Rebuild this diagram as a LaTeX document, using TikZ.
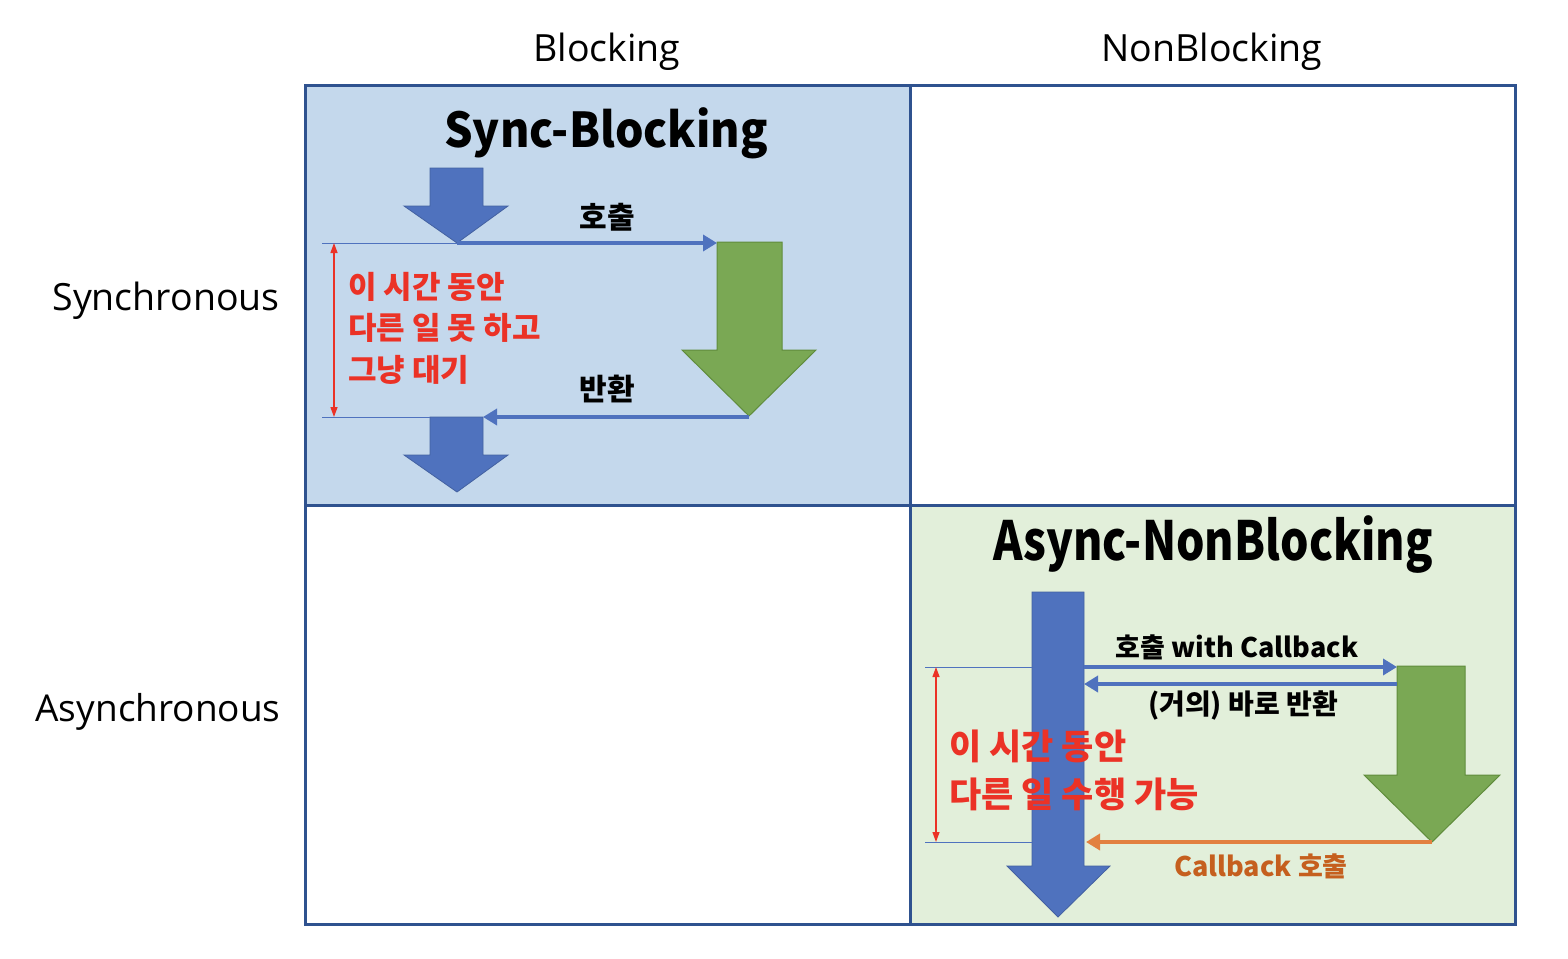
\documentclass[tikz,border=0pt]{standalone}
\usepackage{fontspec}
\usepackage{graphicx}
\setmainfont{Open Sans}
\newfontfamily\kr{Noto Sans CJK KR}
\usetikzlibrary{arrows.meta}
\definecolor{gridc}{RGB}{47,82,143}
\definecolor{bluebg}{RGB}{196,216,236}
\definecolor{greenbg}{RGB}{226,239,218}
\definecolor{arrblue}{RGB}{79,114,190}
\definecolor{arrgreen}{RGB}{122,168,84}
\definecolor{arrgreenb}{RGB}{96,140,60}
\definecolor{redtxt}{RGB}{235,50,38}
\definecolor{orangel}{RGB}{226,128,64}
\definecolor{orangetxt}{RGB}{197,95,30}
\begin{document}
\begin{tikzpicture}[x=1pt,y=-1pt,
  hdr/.style={font=\fontsize{37.5}{40}\selectfont, inner sep=0pt},
  ttl/.style={font=\kr\bfseries\fontsize{48}{50}\selectfont, inner sep=0pt},
  lbl/.style={font=\kr\bfseries\fontsize{27}{29}\selectfont, inner sep=0pt},
  redt/.style={font=\kr\bfseries\fontsize{31}{33}\selectfont, text=redtxt, inner sep=0pt, anchor=west},
  redtb/.style={font=\kr\bfseries\fontsize{35}{37}\selectfont, text=redtxt, inner sep=0pt, anchor=west},
  blockb/.style={fill=arrblue, draw=arrblue!85!black, line width=0.8pt},
  blockg/.style={fill=arrgreen, draw=arrgreenb, line width=1pt},
  thick/.style={draw=arrblue, line width=4pt, -{Triangle[length=14pt,width=16pt]}},
  thin/.style={draw=arrblue, line width=0.8pt},
  dim/.style={draw=redtxt, line width=1.3pt, {Triangle[length=10pt,width=7pt]}-{Triangle[length=10pt,width=7pt]}}
]
\useasboundingbox (0,0) rectangle (1568,958);
% cells
\fill[bluebg] (305,85) rectangle (910,505);
\fill[greenbg] (910,505) rectangle (1515,924);
\draw[gridc, line width=3pt] (305,85) rectangle (1515,924);
\draw[gridc, line width=3pt] (910,85) -- (910,924);
\draw[gridc, line width=3pt] (305,505) -- (1515,505);
% headers
\node[hdr] (hB) at (607,52) {Blocking};
\node[hdr] (hN) at (1212,52) {NonBlocking};
\node[hdr] (hS) at (166,301) {Synchronous};
\node[hdr, font=\fontsize{37}{40}\selectfont] (hA) at (158,712) {Asynchronous};
% ---- Sync-Blocking ----
\node[ttl] (t1) at (606,133) {\scalebox{0.935}[1]{Sync-Blocking}};
\draw[blockb] (430,168) -- (483,168) -- (483,206) -- (508,206) -- (457,243) -- (404,206) -- (430,206) -- cycle;
\coordinate (s1) at (457,243);
\coordinate (s1l) at (322,243);
\draw[blockg] (717,242) -- (782,242) -- (782,350) -- (816,350) -- (749,416) -- (682,350) -- (717,350) -- cycle;
\coordinate (g1) at (717,243);
\coordinate (g1t) at (749,417);
\coordinate (r1) at (483,417);
\coordinate (r1l) at (322,417);
\draw[blockb] (430,417) -- (483,417) -- (483,455) -- (508,455) -- (457,492) -- (404,455) -- (430,455) -- cycle;
\draw[thin] (s1l) -- (s1);
\draw[thin] (r1l) -- (430,417);
\draw[thick] (s1) -- (g1);
\draw[thick] (g1t) -- (r1);
\node[lbl, font=\kr\bfseries\fontsize{30}{32}\selectfont] (l1) at (607,217) {호출};
\node[lbl, font=\kr\bfseries\fontsize{30}{32}\selectfont] (l2) at (607,389) {반환};
\coordinate (d1a) at (334,243);
\coordinate (d1b) at (334,417);
\draw[dim] (d1a) -- (d1b);
\node[redt] (rt1a) at (348,287) {이 시간 동안};
\node[redt] (rt1b) at (348,328) {다른 일 못 하고};
\node[redt] (rt1c) at (348,370) {그냥 대기};
% ---- Async-NonBlocking ----
\node[ttl, font=\kr\bfseries\fontsize{54}{56}\selectfont] (t2) at (1213,545) {\scalebox{0.83}[1]{Async-NonBlocking}};
\draw[blockb] (1032,592) -- (1084,592) -- (1084,866) -- (1110,866) -- (1058,917) -- (1007,866) -- (1032,866) -- cycle;
\draw[blockg] (1397,666) -- (1465,666) -- (1465,775) -- (1500,775) -- (1432,842) -- (1364,775) -- (1397,775) -- cycle;
\coordinate (a1) at (1084,667);
\coordinate (a1e) at (1397,667);
\coordinate (a2) at (1397,684);
\coordinate (a2e) at (1084,684);
\coordinate (gt2) at (1432,842);
\coordinate (cb) at (1086,842);
\draw[thin] (925,667) -- (1032,667);
\draw[thin] (925,842) -- (1032,842);
\draw[thick] (a1) -- (a1e);
\draw[thick] (a2) -- (a2e);
\draw[thick, draw=orangel] (gt2) -- (cb);
\node[lbl] (l3) at (1237,647) {호출 with Callback};
\node[lbl, font=\kr\bfseries\fontsize{28}{30}\selectfont] (l4) at (1243,705) {(거의) 바로 반환};
\node[lbl, text=orangetxt] (l5) at (1261,866) {Callback 호출};
\draw[dim] (936,667) -- (936,842);
\node[redtb] (rt2a) at (949,746) {이 시간 동안};
\node[redtb] (rt2b) at (949,794) {다른 일 수행 가능};
\end{tikzpicture}
\end{document}
